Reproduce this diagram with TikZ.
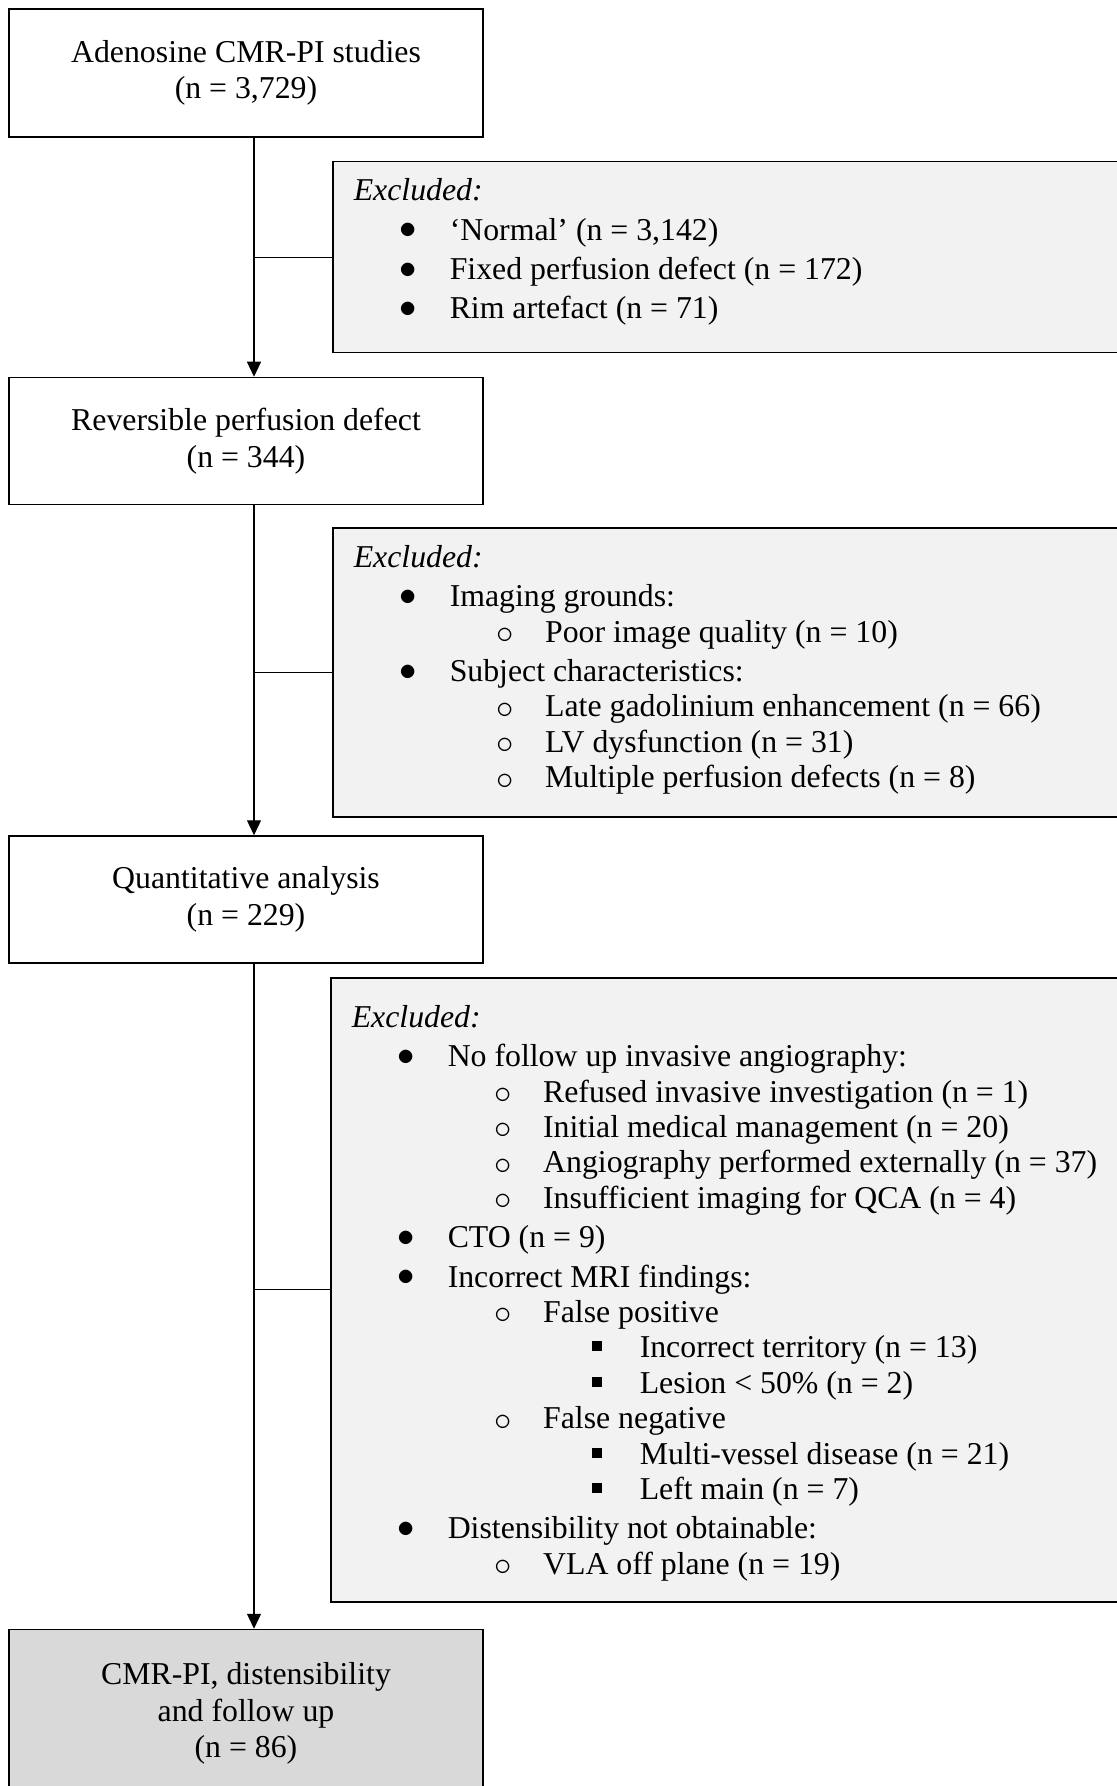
\documentclass[tikz,border=0pt]{standalone}
\usepackage{fontspec}
\setmainfont{Liberation Serif}
\usepackage{tikz}
\usetikzlibrary{arrows.meta, positioning}
\definecolor{exgray}{HTML}{F2F2F2}
\definecolor{endgray}{HTML}{D9D9D9}
\newcommand{\exhead}{\textit{Excluded:}\par}
\newcommand{\exone}[1]{\vspace{2pt}\hspace*{27.4pt}\makebox[0pt]{\raisebox{0.7pt}{$\bullet$}}\hspace*{20.6pt}#1\par}
\newcommand{\extwo}[1]{\hspace*{75.8pt}\makebox[0pt]{\raisebox{-0.7pt}{$\circ$}}\hspace*{19.9pt}#1\par}
\newcommand{\exthree}[1]{\hspace*{122.4pt}\makebox[0pt]{\raisebox{3.2pt}{\rule{5pt}{5pt}}}\hspace*{21.6pt}#1\par}
\newcommand{\exlist}[3]{\parbox[c][#1][t]{420pt}{\vspace*{#2}#3}}

\begin{document}
\begin{tikzpicture}[
        box/.style={rectangle, draw, line width=0.75pt, minimum width=237pt, minimum height=63.5pt, align=center, font=\fontsize{15.9pt}{18.2pt}\selectfont},
        exbox/.style={rectangle, draw, line width=0.75pt, fill=exgray, inner xsep=10.5pt, inner ysep=0pt, anchor=north west, font=\fontsize{15.9pt}{17.7pt}\selectfont},
        arrow/.style={-{Triangle[length=7.5pt, width=7pt]}, line width=0.6pt},
        link/.style={line width=0.6pt}
    ]
        \useasboundingbox (0,0) rectangle (558.5pt,-893pt);
        \clip (0,0) rectangle (558.5pt,-893pt);

        \node[box, minimum height=64pt] (studies) at (123pt,-36.5pt) {Adenosine CMR-PI studies\\(n = 3,729)};
        \node[box, below=119.5pt of studies] (reversible) {Reversible perfusion defect\\(n = 344)};
        \node[box, below=165pt of reversible] (quant) {Quantitative analysis\\(n = 229)};
        \node[box, fill=endgray, minimum height=84pt, below=332.5pt of quant] (final) {CMR-PI, distensibility\\and follow up\\(n = 86)};

        \coordinate (spine) at (127pt,0);

        \node[exbox] (excl1) at (166pt,-80.5pt) {\exlist{95.5pt}{8.4pt}{%
            \exhead
            \exone{`Normal' (n = 3,142)}
            \exone{Fixed perfusion defect (n = 172)}
            \exone{Rim artefact (n = 71)}}};
        \node[exbox] (excl2) at (166pt,-263.5pt) {\exlist{144.5pt}{8.7pt}{%
            \exhead
            \exone{Imaging grounds:}
            \extwo{Poor image quality (n = 10)}
            \exone{Subject characteristics:}
            \extwo{Late gadolinium enhancement (n = 66)}
            \extwo{LV dysfunction (n = 31)}
            \extwo{Multiple perfusion defects (n = 8)}}};
        \node[exbox] (excl3) at (165pt,-488.5pt) {\exlist{312pt}{13.7pt}{%
            \exhead
            \exone{No follow up invasive angiography:}
            \extwo{Refused invasive investigation (n = 1)}
            \extwo{Initial medical management (n = 20)}
            \extwo{Angiography performed externally (n = 37)}
            \extwo{Insufficient imaging for QCA (n = 4)}
            \exone{CTO (n = 9)}
            \exone{Incorrect MRI findings:}
            \extwo{False positive}
            \exthree{Incorrect territory (n = 13)}
            \exthree{Lesion < 50\% (n = 2)}
            \extwo{False negative}
            \exthree{Multi-vessel disease (n = 21)}
            \exthree{Left main (n = 7)}
            \exone{Distensibility not obtainable:}
            \extwo{VLA off plane (n = 19)}}};

        \draw[arrow] (studies.south -| spine) -- (reversible.north -| spine);
        \draw[arrow] (reversible.south -| spine) -- (quant.north -| spine);
        \draw[arrow] (quant.south -| spine) -- (final.north -| spine);
        \draw[link] (excl1.west) -- (excl1.west -| spine);
        \draw[link] (excl2.west) -- (excl2.west -| spine);
        \draw[link] (excl3.west) -- (excl3.west -| spine);
    \end{tikzpicture}
\end{document}
